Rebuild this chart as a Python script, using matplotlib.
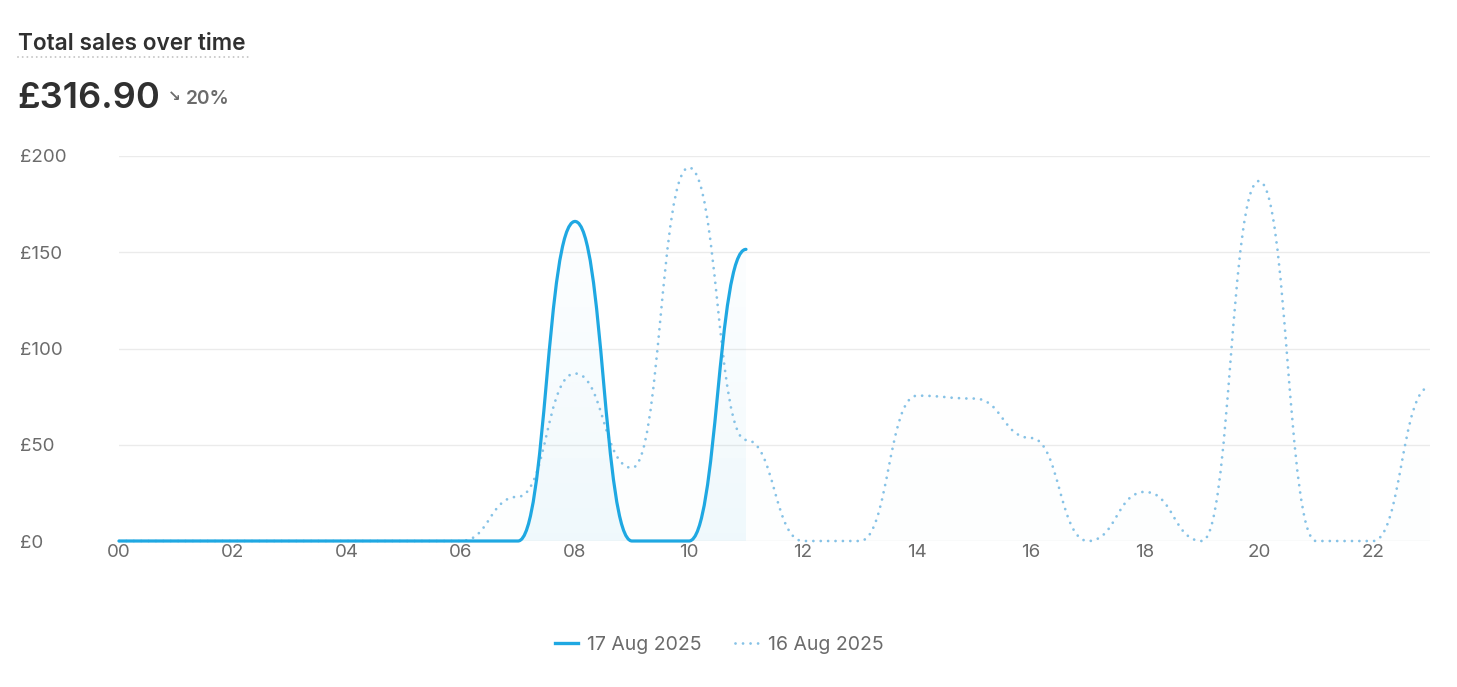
import numpy as np
import matplotlib
matplotlib.use("Agg")
import matplotlib.pyplot as plt
from matplotlib.path import Path
from matplotlib.patches import PathPatch
from matplotlib.lines import Line2D

# ---------------- data ----------------
hours = list(range(24))
hour_labels = ["00", "02", "04", "06", "08", "10", "12", "14", "16", "18", "20", "22"]
sales_17 = [0, 0, 0, 0, 0, 0, 0, 0, 166, 0, 0, 151.5]          # 00..11
sales_16 = [0, 0, 0, 0, 0, 0, 0, 23, 87, 38, 194, 52.5,
            0, 0, 75.5, 74, 53.5, 0, 25.5, 0, 187, 0, 0, 80]   # 00..23
y_ticks = [0, 50, 100, 150, 200]
y_tick_labels = ["£0", "£50", "£100", "£150", "£200"]
label_17 = "17 Aug 2025"
label_16 = "16 Aug 2025"
title = "Total sales over time"
total = "£316.90"
change = "20%"

C_SOLID = "#1FA8E2"
C_DOT = "#86C2E6"
C_TEXT = "#303030"
C_MUTED = "#6b6b6b"

plt.rcParams["font.family"] = ["Inter", "DejaVu Sans"]

W, H = 1457, 687
fig = plt.figure(figsize=(W / 100, H / 100), dpi=100)
ax = fig.add_axes([119 / W, 1 - 541 / H, (1430 - 119) / W, (541 - 156) / H])


def bump_path(xs, ys):
    """d3 curveBumpX as cubic Bezier path (horizontal tangents at every point)."""
    verts = [(xs[0], ys[0])]
    codes = [Path.MOVETO]
    for i in range(len(xs) - 1):
        xm = (xs[i] + xs[i + 1]) / 2
        verts += [(xm, ys[i]), (xm, ys[i + 1]), (xs[i + 1], ys[i + 1])]
        codes += [Path.CURVE4] * 3
    return verts, codes


def gradient_fill(xs, ys, color, alpha_top):
    verts, codes = bump_path(xs, ys)
    verts = verts + [(xs[-1], 0), (xs[0], 0), verts[0]]
    codes = codes + [Path.LINETO, Path.LINETO, Path.CLOSEPOLY]
    clip = PathPatch(Path(verts, codes), facecolor="none", edgecolor="none",
                     transform=ax.transData)
    ax.add_patch(clip)
    rgb = matplotlib.colors.to_rgb(color)
    grad = np.zeros((256, 1, 4))
    grad[:, 0, :3] = rgb
    grad[:, 0, 3] = np.linspace(alpha_top, 0.0, 256)
    im = ax.imshow(grad, extent=[xs[0], xs[-1], 200, 0], aspect="auto",
                   zorder=1, interpolation="bilinear")
    im.set_clip_path(clip)


x17 = hours[:len(sales_17)]
x16 = hours[:len(sales_16)]

gradient_fill(x16, sales_16, C_DOT, 0.015)
gradient_fill(x17, sales_17, C_SOLID, 0.06)

v, c = bump_path(x16, sales_16)
ax.add_patch(PathPatch(Path(v, c), facecolor="none", edgecolor=C_DOT, lw=2.0,
                       linestyle=(0, (0.01, 2.65)), capstyle="round", zorder=3,
                       clip_on=False))
v, c = bump_path(x17, sales_17)
ax.add_patch(PathPatch(Path(v, c), facecolor="none", edgecolor=C_SOLID, lw=2.3,
                       capstyle="round", joinstyle="round", zorder=4, clip_on=False))

ax.set_xlim(0, 23)
ax.set_ylim(0, 200)
for s in ax.spines.values():
    s.set_visible(False)
ax.set_yticks(y_ticks)
ax.set_yticklabels(y_tick_labels)
ax.set_xticks(list(range(0, 24, 2)))
ax.set_xticklabels(hour_labels)
ax.tick_params(axis="both", length=0, labelsize=13.5, labelcolor=C_MUTED)
ax.tick_params(axis="x", pad=2)
ax.tick_params(axis="y", pad=71)
for lab in ax.get_yticklabels():
    lab.set_horizontalalignment("left")
ax.grid(axis="y", color="#ebebeb", lw=1.0)
ax.set_axisbelow(True)
ax.set_facecolor("none")

# header
fig.text(18 / W, 1 - 50 / H, title, fontsize=16.3, fontweight="semibold",
         color=C_TEXT, va="baseline", ha="left")
fig.add_artist(Line2D([18 / W, 248 / W], [1 - 57 / H, 1 - 57 / H], color="#c4c4c4",
                      lw=1.4, linestyle=(0, (0.01, 2.4)), dash_capstyle="round",
                      transform=fig.transFigure))
fig.text(17 / W, 1 - 108 / H, total, fontsize=26, fontweight="semibold",
         color=C_TEXT, va="baseline", ha="left")
fig.text(168 / W, 1 - 101.5 / H, "↘", fontsize=11, fontweight="bold",
         color=C_MUTED, va="baseline", ha="left", family=["DejaVu Sans"])
fig.text(186 / W, 1 - 103.5 / H, change, fontsize=13.8, fontweight="semibold",
         color=C_MUTED, va="baseline", ha="left")

handles = [Line2D([], [], color=C_SOLID, lw=2.4),
           Line2D([], [], color=C_DOT, lw=2.0, linestyle=(0, (0.01, 2.7)),
                  dash_capstyle="round")]
fig.legend(handles, [label_17, label_16], loc="center",
           bbox_to_anchor=(719 / W, 1 - 645 / H), ncol=2, frameon=False,
           fontsize=14, labelcolor=C_MUTED, handlelength=1.18,
           handletextpad=0.5, columnspacing=1.7)

fig.savefig("out.png", dpi=100)
